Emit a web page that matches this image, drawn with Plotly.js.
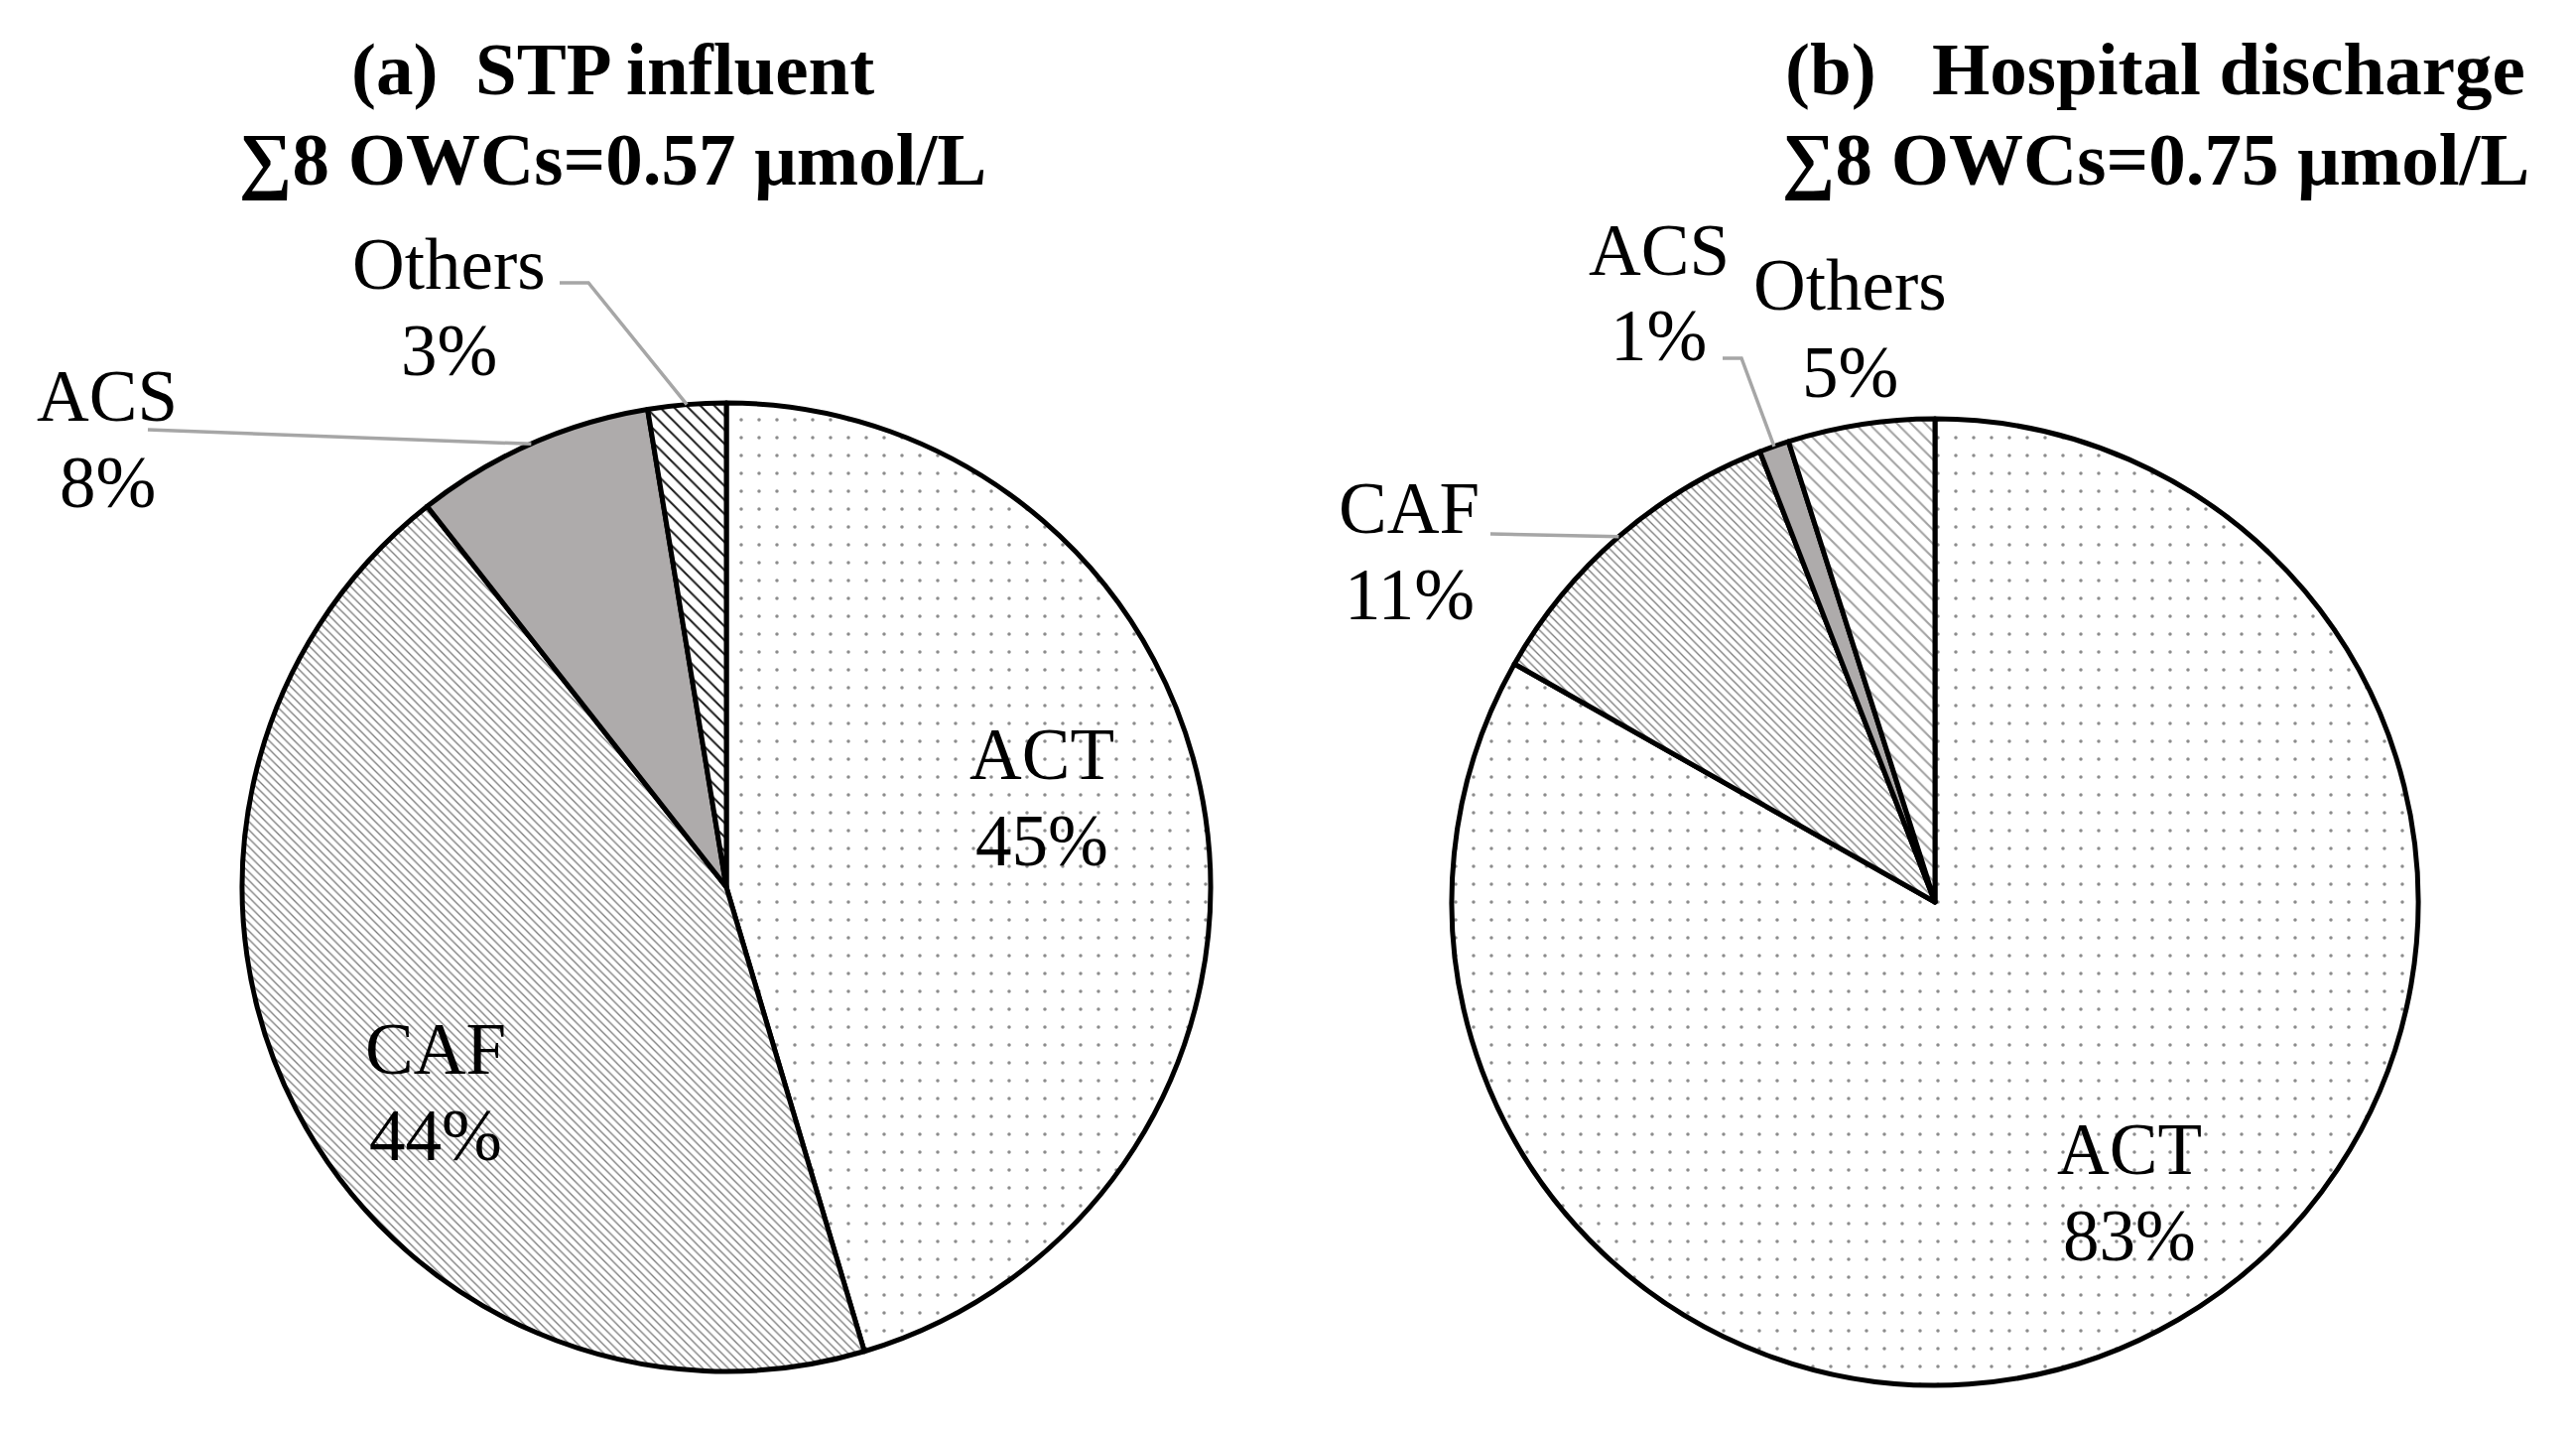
<!DOCTYPE html>
<html>
<head>
<meta charset="utf-8">
<script src="https://cdn.plot.ly/plotly-3.0.1.min.js"></script>
<style>html,body{margin:0;padding:0;background:#fff;}#chart{width:2596px;height:1440px;}</style>
</head>
<body>
<div id="chart"></div>
<script>
// ---------------- data ----------------
const categoriesA = ['ACT', 'CAF', 'ACS', 'Others'];
const valuesA = [45.4, 44.0, 8.0, 2.6];
const titleA = ['(a)\u00a0\u00a0STP influent', '\u22118 OWCs=0.57 \u03bcmol/L'];

const categoriesB = ['ACT', 'CAF', 'ACS', 'Others'];
const valuesB = [83.2, 10.9, 1.0, 4.9];
const titleB = ['(b)\u00a0\u00a0\u00a0Hospital discharge', '\u22118 OWCs=0.75 \u03bcmol/L'];

// ---------------- layout / style config ----------------
const W = 2596, H = 1440;
const FONT = '"Liberation Serif", "Times New Roman", Times, serif';
const LABEL_SIZE = 73, TITLE_SIZE = 75, LINE_GAP = 87, TITLE_GAP = 91;

const panels = [
  {
    cats: categoriesA, vals: valuesA, title: titleA,
    cx: 732, cy: 894, r: 488,
    titlePos: [617, 69],
    labelPos: {ACT: [1050, 760], CAF: [439, 1057], ACS: [108, 399], Others: [452, 266]},
    leaders: {ACS: [[149, 433]], Others: [[564, 285], [593, 285]]},
    pattern: {
      shape: ['.', '\\', '.', '\\'],
      fgcolor: ['#8c8c8c', '#7a7a7a', '#aeabab', '#1a1a1a'],
      bgcolor: ['#ffffff', '#ffffff', '#aeabab', '#ffffff'],
      size: [18, 6, 8, 10],
      solidity: [0.03, 0.22, 0.5, 0.2]
    }
  },
  {
    cats: categoriesB, vals: valuesB, title: titleB,
    cx: 1950, cy: 909, r: 487,
    titlePos: [2172, 69],
    labelPos: {ACT: [2146, 1158], CAF: [1420, 512], ACS: [1672, 252], Others: [1864, 288]},
    leaders: {CAF: [[1502, 538]], ACS: [[1736, 361], [1755, 361]]},
    pattern: {
      shape: ['.', '\\', '.', '\\'],
      fgcolor: ['#8c8c8c', '#7a7a7a', '#aeabab', '#a0a0a0'],
      bgcolor: ['#ffffff', '#ffffff', '#aeabab', '#ffffff'],
      size: [18, 6, 8, 10],
      solidity: [0.03, 0.22, 0.5, 0.2]
    }
  }
];

const px2x = x => x / W;
const px2y = y => 1 - y / H;

const traces = [];
const annotations = [];
const shapes = [];

panels.forEach(p => {
  traces.push({
    type: 'pie',
    labels: p.cats,
    values: p.vals,
    sort: false,
    direction: 'clockwise',
    rotation: 0,
    textinfo: 'none',
    textposition: 'none',
    hoverinfo: 'label+percent',
    showlegend: false,
    domain: {
      x: [px2x(p.cx - p.r), px2x(p.cx + p.r)],
      y: [px2y(p.cy + p.r), px2y(p.cy - p.r)]
    },
    marker: {
      colors: p.pattern.bgcolor,
      line: {color: '#000000', width: 5},
      pattern: p.pattern
    }
  });

  // titles
  p.title.forEach((t, i) => {
    annotations.push({
      xref: 'paper', yref: 'paper',
      x: px2x(p.titlePos[0]), y: px2y(p.titlePos[1] + i * TITLE_GAP),
      xanchor: 'center', yanchor: 'middle', showarrow: false,
      text: '<b>' + t + '</b>',
      font: {family: FONT, size: TITLE_SIZE, color: '#000'}
    });
  });

  const total = p.vals.reduce((a, b) => a + b, 0);
  let cum = 0;
  p.cats.forEach((c, i) => {
    const pct = Math.round(p.vals[i] / total * 100) + '%';
    const midFrac = (cum + p.vals[i] / 2) / total;
    cum += p.vals[i];
    const pos = p.labelPos[c];
    [c, pct].forEach((t, j) => {
      annotations.push({
        xref: 'paper', yref: 'paper',
        x: px2x(pos[0]), y: px2y(pos[1] + j * LINE_GAP),
        xanchor: 'center', yanchor: 'middle', showarrow: false,
        text: t,
        font: {family: FONT, size: LABEL_SIZE, color: '#000'}
      });
    });
    if (p.leaders[c]) {
      const th = midFrac * 2 * Math.PI;
      const ex = p.cx + p.r * Math.sin(th);
      const ey = p.cy - p.r * Math.cos(th);
      const pts = p.leaders[c].concat([[ex, ey]]);
      const d = pts.map((q, k) => (k ? 'L' : 'M') + px2x(q[0]).toFixed(5) + ',' + px2y(q[1]).toFixed(5)).join(' ');
      shapes.push({
        type: 'path', xref: 'paper', yref: 'paper', path: d,
        line: {color: '#a6a6a6', width: 3.5}
      });
    }
  });
});

const layout = {
  width: W, height: H,
  margin: {l: 0, r: 0, t: 0, b: 0},
  paper_bgcolor: '#ffffff',
  plot_bgcolor: '#ffffff',
  font: {family: FONT, color: '#000'},
  showlegend: false,
  annotations: annotations,
  shapes: shapes
};

Plotly.newPlot('chart', traces, layout, {staticPlot: true, displayModeBar: false});
</script>
</body>
</html>
